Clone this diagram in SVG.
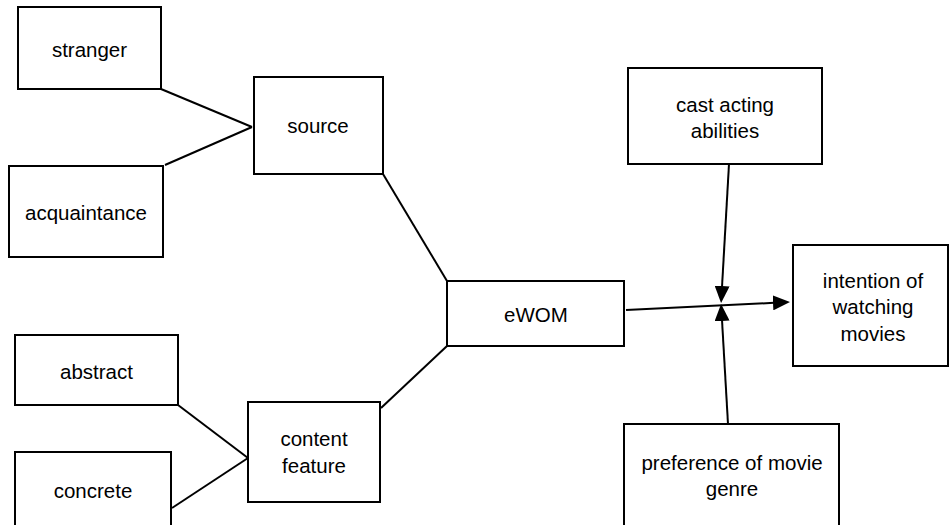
<svg xmlns="http://www.w3.org/2000/svg" width="949" height="525" viewBox="0 0 949 525">
  <style>
    .box { fill: #ffffff; stroke: #000000; stroke-width: 2; }
    .lbl { font-family: "Liberation Sans", Arial, sans-serif; font-size: 20.5px; fill: #000000; text-anchor: middle; }
    .con { stroke: #000000; stroke-width: 2; fill: none; }
  </style>
  <defs>
    <marker id="arrow" markerUnits="userSpaceOnUse" markerWidth="17" markerHeight="15" refX="1" refY="7.5" orient="auto" viewBox="0 0 17 15">
      <path d="M0,0 L17,7.5 L0,15 Z" fill="#000000"/>
    </marker>
  </defs>
  <rect width="949" height="525" fill="#ffffff"/>

  <g id="connectors">
    <line class="con" x1="161" y1="89" x2="252" y2="127"/>
    <line class="con" x1="165" y1="165" x2="252" y2="127"/>
    <line class="con" x1="178" y1="405" x2="248" y2="458"/>
    <line class="con" x1="172" y1="508" x2="248" y2="458"/>
    <line class="con" x1="383" y1="174" x2="447" y2="281"/>
    <line class="con" x1="381" y1="408" x2="447" y2="346"/>
    <line class="con" x1="626" y1="310" x2="774" y2="302.8" marker-end="url(#arrow)"/>
    <line class="con" x1="729" y1="164" x2="722" y2="287" marker-end="url(#arrow)"/>
    <line class="con" x1="728" y1="424" x2="722" y2="320" marker-end="url(#arrow)"/>
  </g>

  <g id="stranger">
    <rect class="box" x="18" y="7" width="143" height="82"/>
    <text class="lbl" x="89.5" y="57">stranger</text>
  </g>
  <g id="acquaintance">
    <rect class="box" x="9" y="166" width="154" height="91"/>
    <text class="lbl" x="86" y="220">acquaintance</text>
  </g>
  <g id="source">
    <rect class="box" x="254" y="77" width="129" height="97"/>
    <text class="lbl" x="318" y="133">source</text>
  </g>
  <g id="abstract">
    <rect class="box" x="15" y="335" width="163" height="70"/>
    <text class="lbl" x="96.5" y="379">abstract</text>
  </g>
  <g id="concrete">
    <rect class="box" x="15" y="452" width="156" height="80"/>
    <text class="lbl" x="93" y="498">concrete</text>
  </g>
  <g id="content-feature">
    <rect class="box" x="248" y="402" width="132" height="100"/>
    <text class="lbl" x="314" y="446">content</text>
    <text class="lbl" x="314" y="473">feature</text>
  </g>
  <g id="ewom">
    <rect class="box" x="447" y="281" width="177" height="65"/>
    <text class="lbl" x="536" y="322">eWOM</text>
  </g>
  <g id="cast-acting-abilities">
    <rect class="box" x="628" y="68" width="194" height="96"/>
    <text class="lbl" x="725" y="112">cast acting</text>
    <text class="lbl" x="725" y="138">abilities</text>
  </g>
  <g id="intention">
    <rect class="box" x="793" y="245" width="155" height="121"/>
    <text class="lbl" x="873" y="288">intention of</text>
    <text class="lbl" x="873" y="314">watching</text>
    <text class="lbl" x="873" y="341">movies</text>
  </g>
  <g id="preference">
    <rect class="box" x="624" y="424" width="215" height="110"/>
    <text class="lbl" x="732" y="470">preference of movie</text>
    <text class="lbl" x="732" y="496">genre</text>
  </g>
</svg>
